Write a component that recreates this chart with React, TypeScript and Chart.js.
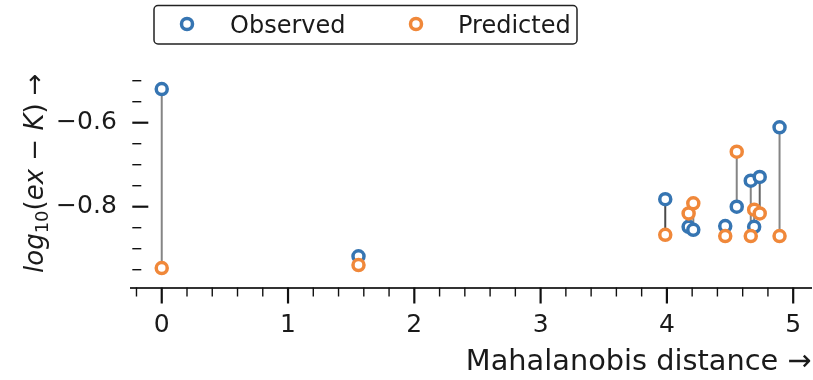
import React, { useEffect, useRef } from "react";
import { Chart, registerables } from "chart.js";

Chart.register(...registerables);

// ---- data ----
const distances = [0.0, 1.558, 3.987, 4.172, 4.209, 4.462, 4.553, 4.664, 4.691, 4.735, 4.892];
const observed = [-0.52, -0.918, -0.782, -0.848, -0.855, -0.846, -0.8, -0.738, -0.848, -0.729, -0.611];
const predicted = [-0.946, -0.939, -0.867, -0.816, -0.792, -0.87, -0.669, -0.87, -0.807, -0.816, -0.87];

const xMajorTicks = [0, 1, 2, 3, 4, 5];
const xMinorTicks = [-0.2, 0.2, 0.4, 0.6, 0.8, 1.2, 1.4, 1.6, 1.8, 2.2, 2.4, 2.6, 2.8, 3.2, 3.4, 3.6, 3.8, 4.2, 4.4, 4.6, 4.8];
const yMajorTicks = [-0.8, -0.6];
const yMinorTicks = [-0.95, -0.9, -0.85, -0.75, -0.7, -0.65, -0.55, -0.5];

const seriesNames = ["Observed", "Predicted"];
const xTitle = "Mahalanobis distance \u2192";
// y title pieces: [text, italic, subscript]
const yTitleParts: [string, boolean, boolean][] = [
  ["log", true, false],
  ["10", false, true],
  ["(", false, false],
  ["ex", true, false],
  [" \u2212 ", false, false],
  ["K", true, false],
  [")", false, false],
  [" \u2192", false, false],
];

const BLUE = "#3675b2";
const ORANGE = "#f0883a";
const FONT = "'DejaVu Sans', sans-serif";
const W = 813;
const H = 380;

export default function App() {
  const ref = useRef<HTMLCanvasElement | null>(null);

  useEffect(() => {
    if (!ref.current) return;

    const stemData: { x: number; y: number }[] = [];
    distances.forEach((d, i) => {
      stemData.push({ x: d, y: observed[i] });
      stemData.push({ x: d, y: predicted[i] });
      stemData.push({ x: d, y: NaN });
    });
    const stemColor = (i: number) => (i === 2 ? "#4a4a4a" : i === 9 ? "#666666" : "#858585");

    const tickPlugin = {
      id: "mplTicks",
      afterDraw(chart: any) {
        const { ctx, chartArea, scales } = chart;
        const xs = scales.x;
        const ys = scales.y;
        ctx.save();
        ctx.strokeStyle = "#111";
        // x ticks (outward, below spine)
        const bottom = chartArea.bottom;
        ctx.lineWidth = 2.2;
        xMajorTicks.forEach((v) => {
          const px = xs.getPixelForValue(v);
          ctx.beginPath();
          ctx.moveTo(px, bottom);
          ctx.lineTo(px, bottom + 16);
          ctx.stroke();
        });
        ctx.lineWidth = 1.4;
        xMinorTicks.forEach((v) => {
          const px = xs.getPixelForValue(v);
          ctx.beginPath();
          ctx.moveTo(px, bottom);
          ctx.lineTo(px, bottom + 9);
          ctx.stroke();
        });
        // y ticks
        const left = chartArea.left + 1.5;
        ctx.lineWidth = 2.2;
        yMajorTicks.forEach((v) => {
          const py = ys.getPixelForValue(v);
          ctx.beginPath();
          ctx.moveTo(left, py);
          ctx.lineTo(left + 16, py);
          ctx.stroke();
        });
        ctx.lineWidth = 1.4;
        yMinorTicks.forEach((v) => {
          const py = ys.getPixelForValue(v);
          ctx.beginPath();
          ctx.moveTo(left, py);
          ctx.lineTo(left + 9, py);
          ctx.stroke();
        });

        // y axis title (math-like, rotated)
        ctx.save();
        ctx.translate(43, 273);
        ctx.rotate(-Math.PI / 2);
        ctx.fillStyle = "#1a1a1a";
        ctx.textBaseline = "alphabetic";
        ctx.textAlign = "left";
        let pos = 0;
        yTitleParts.forEach(([t, it, sub]) => {
          const size = sub ? 18 : 26;
          ctx.font = `${it ? "italic " : ""}${size}px ${FONT}`;
          ctx.fillText(t, pos, sub ? 5 : 0);
          pos += ctx.measureText(t).width;
        });
        ctx.restore();

        // legend
        ctx.lineWidth = 1.5;
        ctx.strokeStyle = "#222";
        ctx.fillStyle = "#fff";
        ctx.beginPath();
        (ctx as any).roundRect(154, 5.5, 423, 38.5, 4);
        ctx.fill();
        ctx.stroke();
        const items = [
          { name: seriesNames[0], color: BLUE, mx: 187, tx: 230 },
          { name: seriesNames[1], color: ORANGE, mx: 416, tx: 458 },
        ];
        ctx.font = `24px ${FONT}`;
        ctx.textBaseline = "alphabetic";
        ctx.textAlign = "left";
        items.forEach((it) => {
          ctx.beginPath();
          ctx.arc(it.mx, 24, 5.5, 0, Math.PI * 2);
          ctx.fillStyle = "#fff";
          ctx.fill();
          ctx.lineWidth = 3.5;
          ctx.strokeStyle = it.color;
          ctx.stroke();
          ctx.fillStyle = "#1a1a1a";
          ctx.fillText(it.name, it.tx, 32.5);
        });
        ctx.restore();
      },
    };

    const chart = new Chart(ref.current, {
      type: "scatter",
      data: {
        datasets: [
          {
            type: "line",
            label: "stems",
            data: stemData,
            borderColor: "#858585",
            borderWidth: 2,
            pointRadius: 0,
            spanGaps: false,
            order: 3,
            segment: {
              borderColor: (c: any) => stemColor(Math.floor(c.p0DataIndex / 3)),
            },
          } as any,
          {
            label: seriesNames[0],
            data: distances.map((d, i) => ({ x: d, y: observed[i] })),
            pointRadius: 5.5,
            pointBorderWidth: 3.5,
            pointBackgroundColor: "#fff",
            pointBorderColor: BLUE,
            order: 2,
            clip: false,
          } as any,
          {
            label: seriesNames[1],
            data: distances.map((d, i) => ({ x: d, y: predicted[i] })),
            pointRadius: 5.5,
            pointBorderWidth: 3.5,
            pointBackgroundColor: "#fff",
            pointBorderColor: ORANGE,
            order: 1,
            clip: false,
          } as any,
        ],
      },
      options: {
        animation: false,
        responsive: false,
        devicePixelRatio: 1,
        layout: { autoPadding: false, padding: { left: 0, right: 1.5, top: 70, bottom: 0 } },
        plugins: {
          legend: { display: false },
          tooltip: { enabled: false },
        },
        scales: {
          x: {
            type: "linear",
            min: -0.245,
            max: 5.145,
            afterFit: (s: any) => {
              s.height = 92.5;
              s.paddingLeft = 0;
              s.paddingRight = 0;
            },
            grid: { display: false, drawTicks: false },
            border: { display: true, color: "#333", width: 2 },
            ticks: {
              stepSize: 1,
              includeBounds: false,
              padding: 23,
              color: "#1a1a1a",
              font: { family: FONT, size: 25 },
              maxRotation: 0,
            },
            title: {
              display: true,
              text: xTitle,
              align: "end",
              color: "#1a1a1a",
              font: { family: FONT, size: 28.8 },
              padding: { top: 0, bottom: 0 },
            },
          },
          y: {
            type: "linear",
            min: -0.9924,
            max: -0.4745,
            afterFit: (s: any) => {
              s.width = 130.8;
              s.paddingTop = 0;
              s.paddingBottom = 0;
            },
            grid: { display: false, drawTicks: false },
            border: { display: false },
            ticks: {
              stepSize: 0.2,
              includeBounds: false,
              padding: 14,
              color: "#1a1a1a",
              font: { family: FONT, size: 25 },
              callback: (v: any) => {
                const n = Number(v);
                return (n < 0 ? "\u2212" : "") + Math.abs(n).toFixed(1);
              },
            },
            title: { display: false },
          },
        },
      } as any,
      plugins: [tickPlugin],
    });

    return () => chart.destroy();
  }, []);

  return (
    <div style={{ position: "fixed", left: 0, top: 0, width: W, height: H, overflow: "hidden", background: "#fff" }}>
      <canvas ref={ref} width={W} height={H} style={{ display: "block", width: W, height: H }} />
    </div>
  );
}
